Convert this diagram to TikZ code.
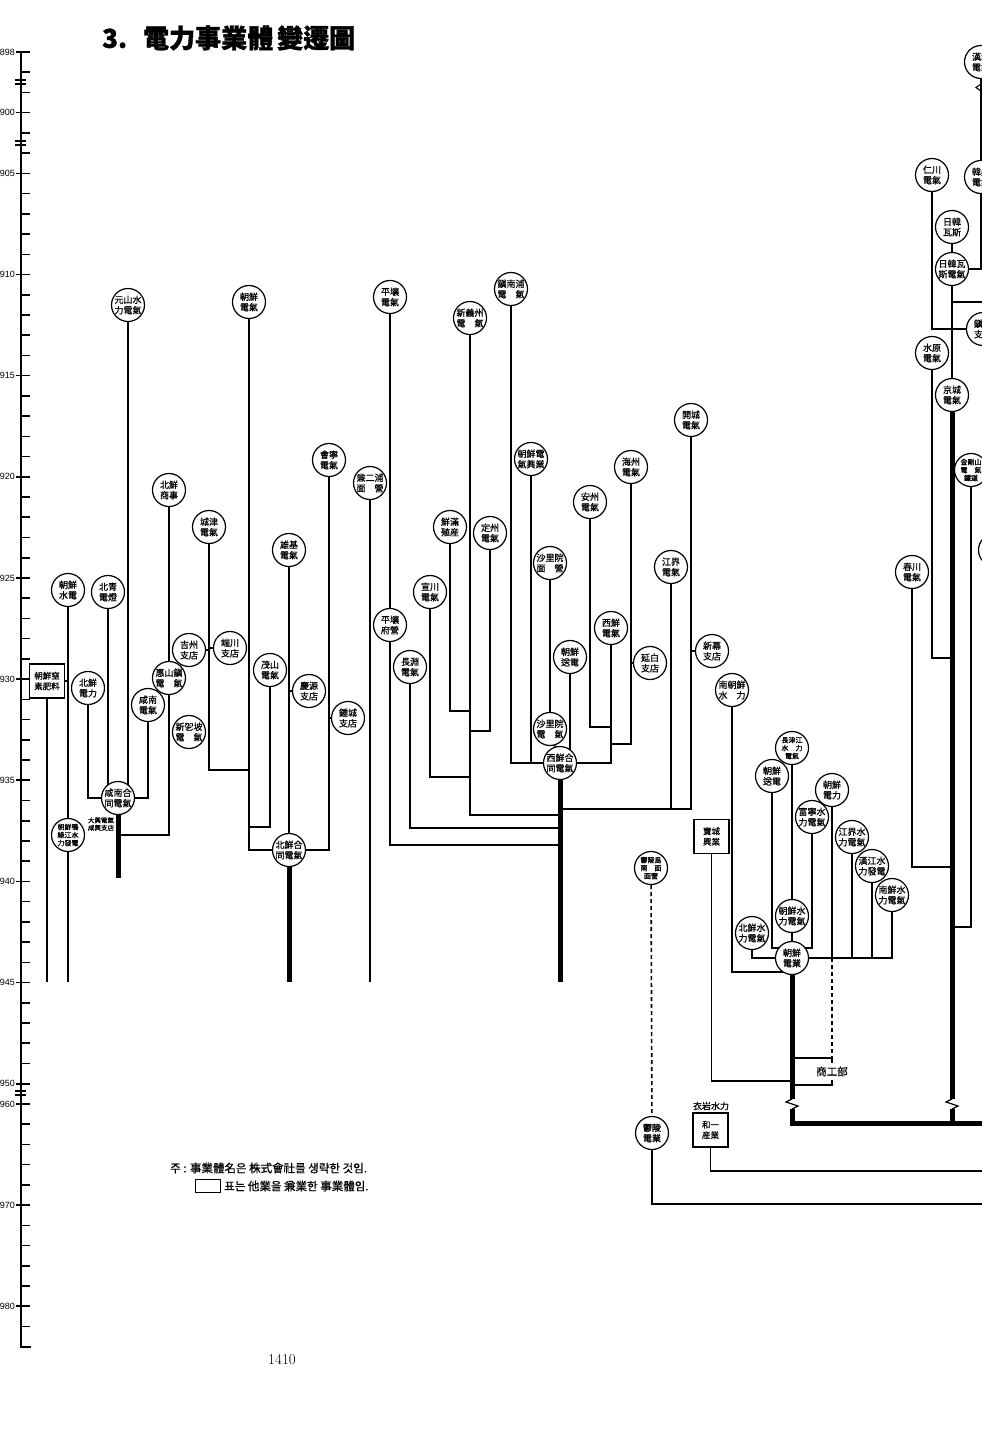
\documentclass[tikz,border=0pt]{standalone}
\usepackage{fontspec}
\newfontfamily\cjk[FakeBold=0.7]{Noto Sans CJK KR}
\newfontfamily\cjkdark[FakeBold=1.2]{Noto Sans CJK KR}
\newfontfamily\digits{Liberation Sans}
\usetikzlibrary{positioning,backgrounds}
\tikzset{
  firm/.style = {circle, draw, line width=1.2pt, fill=white, minimum size=33pt, inner sep=0pt, align=center, font=\cjk\fontsize{9}{10.5}\selectfont},
  smallfirm/.style = {firm, font=\cjk\fontsize{7}{8}\selectfont},
  dualfirm/.style = {rectangle, draw, line width=1.2pt, fill=white, minimum width=35pt, minimum height=34pt, inner sep=0pt, align=center, font=\cjk\fontsize{8.5}{10.5}\selectfont},
  life/.style = {line width=1.6pt},
  trunk/.style = {line width=5pt},
  govline/.style = {line width=1.6pt, dash pattern=on 4pt off 3pt},
  yearlab/.style = {anchor=east, inner sep=0pt, font=\digits\fontsize{9}{9}\selectfont},
  tag/.style = {inner sep=0pt, align=center, font=\cjk\fontsize{9}{11}\selectfont},
}

\begin{document}
\begin{tikzpicture}[x=1pt,y=-1pt]
\useasboundingbox (0,0) rectangle (982,1440);

% title
\node[anchor=west, inner sep=0pt, font=\cjkdark\bfseries\fontsize{26}{26}\selectfont] (title) at (102,38) {3.\hspace{16pt}電力事業體\hspace{4pt}變遷圖};

% time axis
\draw[life] (21,52) -- (21,1347) -- (31,1347);
\foreach \i in {0,...,63}
  \draw[life] (21,{52+20.23*\i}) -- (30,{52+20.23*\i});
\foreach \i/\yr in {0/1898,3/1900,6/1905,11/1910,16/1915,21/1920,26/1925,31/1930,36/1935,41/1940,46/1945,51/1950,52/1960,57/1970,62/1980}{
  \draw[life] (16,{52+20.23*\i}) -- (21,{52+20.23*\i});
  \node[yearlab] at (15,{52+20.23*\i}) {\yr};
}
\foreach \b in {80,141,1091}
  \draw[line width=1.1pt] (15,\b) -- (26,\b) (15,{\b+4}) -- (26,{\b+4});

% junction rows
\coordinate (east) at (990,0);
\coordinate (y1945) at (0,982);
\foreach \r in {84,302,658,711,727,731,744,770,777,809,815,827,828,835,845,867,878,927,948,972,1081,1099,1109,1123,1171,1204}
  \coordinate (r\r) at (0,\r);

% north-east (Hamgyong) companies
\node[firm] (gensan) at (128,305) {元山水\\力電氣};
\node[firm] (chosenden) at (249,302) {朝鮮\\電氣};
\node[firm] (kainei) at (329,460) {會寧\\電氣};
\node[firm] (kenjiho) at (370,483) {兼二浦\\面\quad 營};
\node[firm] (shoji) at (169,490) {北鮮\\商事};
\node[firm] (joshin) at (209,527) {城津\\電氣};
\node[firm] (yuki) at (289,550) {雄基\\電氣};
\node[firm] (suiden) at (68,590) {朝鮮\\水電};
\node[firm] (hokusei) at (108,592) {北青\\電燈};
\node[firm] (kisshu) at (189,650) {吉州\\支店};
\node[firm] (tansen) at (230,648) {端川\\支店};
\node[firm] (keizan) at (169,678) {惠山鎭\\電\quad 氣};
\node[dualfirm] (chisso) at (47,681) {朝鮮窒\\素肥料};
\node[firm] (hokusenden) at (88,688) {北鮮\\電力};
\node[firm] (mosan) at (270,670) {茂山\\電氣};
\node[firm] (keigen) at (309,691) {慶源\\支店};
\node[firm] (kannanden) at (148,705) {咸南\\電氣};
\node[firm] (shinkappa) at (189,732) {新乫坡\\電\quad 氣};
\node[firm] (shojo) at (348,718) {鍾城\\支店};
\node[firm] (kannan) at (118,798) {咸南合\\同電氣};
\node[smallfirm] (amnok) at (68,835) {朝鮮鴨\\綠江水\\力發電};
\node[tag, font=\cjk\fontsize{6.5}{7.5}\selectfont] (taiko) at (101,824) {大興電氣\\咸興支店};
\node[firm] (hokusengodo) at (289,850) {北鮮合\\同電氣};

% west (Pyongan, Hwanghae) companies
\node[firm] (heijoden) at (390,297) {平壤\\電氣};
\node[firm] (shingishu) at (470,318) {新義州\\電\quad 氣};
\node[firm] (chinnampo) at (511,289) {鎭南浦\\電\quad 氣};
\node[firm] (kaijo) at (691,420) {開城\\電氣};
\node[firm] (kogyo) at (531,459) {朝鮮電\\氣興業};
\node[firm] (kaishu) at (631,467) {海州\\電氣};
\node[firm] (anshu) at (590,502) {安州\\電氣};
\node[firm] (senman) at (450,527) {鮮滿\\殖産};
\node[firm] (teishu) at (490,533) {定州\\電氣};
\node[firm] (sariinmen) at (550,563) {沙里院\\面\quad 營};
\node[firm] (kokai) at (671,567) {江界\\電氣};
\node[firm] (sensen) at (430,592) {宣川\\電氣};
\node[firm] (heijofu) at (390,625) {平壤\\府營};
\node[firm] (choen) at (410,667) {長淵\\電氣};
\node[firm] (seisenden) at (611,628) {西鮮\\電氣};
\node[firm] (sosen) at (570,657) {朝鮮\\送電};
\node[firm] (enpaku) at (650,663) {延白\\支店};
\node[firm] (shinbaku) at (712,651) {新幕\\支店};
\node[firm] (sariinden) at (550,729) {沙里院\\電\quad 氣};
\node[firm] (seisengodo) at (560,763) {西鮮合\\同電氣};

% hydro companies
\node[firm] (minamisui) at (732,690) {南朝鮮\\水\quad 力};
\node[smallfirm] (choshinko) at (792,748) {長津江\\水\quad 力\\電氣};
\node[firm] (sosen2) at (772,776) {朝鮮\\送電};
\node[firm] (chosenry) at (832,790) {朝鮮\\電力};
\node[firm] (funei) at (812,817) {富寧水\\力電氣};
\node[firm] (kokaisui) at (852,837) {江界水\\力電氣};
\node[firm] (kankosui) at (872,866) {漢江水\\力發電};
\node[firm] (nansensui) at (892,895) {南鮮水\\力電氣};
\node[firm] (chosensui) at (792,916) {朝鮮水\\力電氣};
\node[firm] (hokusui) at (752,933) {北鮮水\\力電氣};
\node[firm] (dengyo) at (792,958) {朝鮮\\電業};
\node[dualfirm] (hojo) at (711.5,836.5) {寶城\\興業};
\node[tag, minimum height=27pt, font=\cjk\fontsize{10.5}{11}\selectfont] (shoko) at (832,1071.5) {商工部};
\node[smallfirm] (utsuryomen) at (651,868) {鬱陵島\\南\quad 面\\面營};
\node[firm] (utsuryoden) at (652,1133) {鬱陵\\電業};
\node[dualfirm] (waichi) at (710.5,1130) {和一\\産業};
\node[tag] (iwa) at (711,1106) {衣岩水力};

% Seoul companies
\node[firm] (kanjo) at (981,62) {漢城\\電氣};
\node[firm] (kanbi) at (981,177) {韓美\\電氣};
\node[firm] (jinsen) at (932,175) {仁川\\電氣};
\node[firm] (nikkangas) at (952,227) {日韓\\瓦斯};
\node[firm] (nikkangasden) at (952,269) {日韓瓦\\斯電氣};
\node[firm] (chin) at (983,329) {鎭\hphantom{鎭}\\支\hphantom{支}};
\node[firm] (suigen) at (932,353) {水原\\電氣};
\node[firm] (keijo) at (952,395) {京城\\電氣};
\node[smallfirm] (kongo) at (971,470) {金剛山\\電\quad 氣\\鐵道};
\node[firm] (offedge) at (995,550) {};
\node[firm] (shunsen) at (912,572) {春川\\電氣};

\begin{scope}[on background layer]
\draw[life] (suiden) -- (amnok);
\draw[life] (amnok) -- (amnok |- y1945);
\draw[life] (chisso.east) -- (chisso.east -| suiden);
\draw[life] (chisso.south) -- (chisso.south |- y1945);
\draw[life] (hokusenden) |- (kannan);
\draw[life] (hokusei) -- (hokusei |- kannan);
\draw[life] (gensan) -- (gensan |- kannan);
\draw[life] (kannanden) |- (kannan);
\draw[life] (shoji) -- (keizan);
\draw[life] (keizan) |- (kannan |- r835);
\draw[trunk] (kannan) -- (kannan |- r878);
\draw[life] (kisshu) -- (kisshu -| joshin);
\draw[life] (tansen) -- (tansen -| joshin);
\draw[life] (joshin) |- (chosenden |- r770);
\draw[life] (chosenden) |- (hokusengodo);
\draw[life] (mosan) |- (chosenden |- r827);
\draw[life] (yuki) -- (hokusengodo);
\draw[life] (keigen) -- (keigen -| yuki);
\draw[life] (kainei) |- (hokusengodo);
\draw[life] (shojo) -- (shojo -| kainei);
\draw[trunk] (hokusengodo) -- (hokusengodo |- y1945);
\draw[life] (kenjiho) -- (kenjiho |- y1945);

\draw[life] (heijoden) -- (heijofu);
\draw[life] (heijofu) |- (seisengodo |- r845);
\draw[life] (sensen) |- (shingishu |- r777);
\draw[life] (senman) |- (shingishu |- r711);
\draw[life] (shingishu) |- (seisengodo |- r815);
\draw[life] (teishu) |- (shingishu |- r731);
\draw[life] (choen) |- (seisengodo |- r828);
\draw[life] (chinnampo) |- (seisengodo);
\draw[life] (kogyo) -- (kogyo |- seisengodo);
\draw[life] (sariinmen) -- (sariinden);
\draw[life] (sariinden) -- (seisengodo);
\draw[life] (sosen) -- (sosen |- seisengodo);
\draw[life] (anshu) |- (seisenden |- r727);
\draw[life] (seisenden) |- (seisengodo);
\draw[life] (kaishu) |- (seisenden |- r744);
\draw[life] (enpaku) -- (enpaku -| kaishu);
\draw[life] (kokai) |- (seisengodo |- r809);
\draw[life] (kaijo) |- (kokai |- r809);
\draw[life] (shinbaku) -- (shinbaku -| kaijo);
\draw[trunk] (seisengodo) -- (seisengodo |- y1945);

\draw[life] (minamisui) |- (dengyo |- r972);
\draw[life] (sosen2) |- (dengyo |- r948);
\draw[life] (choshinko) -- (chosensui);
\draw[life] (chosensui) -- (dengyo);
\draw[life] (funei) |- (dengyo |- r948);
\draw[life] (hokusui) |- (dengyo);
\draw[life] (chosenry) |- (dengyo);
\draw[life] (kokaisui) |- (dengyo);
\draw[life] (kankosui) |- (dengyo);
\draw[life] (nansensui) |- (dengyo);
\draw[govline] (chosenry |- dengyo) -- (shoko.north);
\draw[life] (shoko.north -| dengyo) -- (shoko.north) -- ([yshift=-5pt]shoko.north);
\draw[life] (shoko.south -| dengyo) -- (shoko.south) -- ([yshift=5pt]shoko.south);
\draw[life] (hojo) |- (dengyo |- r1081);
\draw[trunk] (dengyo) -- (dengyo |- r1099);
\draw[line width=1.2pt] (dengyo |- r1099) -- ++(-6,3) -- ++(12,4) -- ++(-6,3);
\draw[trunk] (dengyo |- r1109) |- (east |- r1123);
\draw[trunk] (keijo) -- (keijo |- r1099);
\draw[line width=1.2pt] (keijo |- r1099) -- ++(-6,3) -- ++(12,4) -- ++(-6,3);
\draw[trunk] (keijo |- r1109) -- (keijo |- r1123);
\draw[govline] (utsuryomen) -- (utsuryoden);
\draw[life] (utsuryoden) |- (east |- r1204);
\draw[life] (waichi) |- (east |- r1171);

\draw[life] (kanjo) -- (kanbi);
\draw[line width=1.1pt] (kanjo |- r84) -- ++(-5,3.5) -- ++(5,3.5);
\draw[life] (kanbi) |- (nikkangasden);
\draw[life] (nikkangas) -- (nikkangasden);
\draw[life] (nikkangasden) -- (keijo);
\draw[life] (keijo |- r302) -- (east |- r302);
\draw[life] (jinsen) |- (chin);
\draw[life] (suigen) |- (keijo |- r658);
\draw[life] (kongo) |- (keijo |- r927);
\draw[life] (shunsen) |- (keijo |- r867);
\end{scope}

% note
\node[tag, anchor=west, font=\cjk\fontsize{11.5}{13}\selectfont] (note1) at (170,1168) {주 : 事業體名은 株式會社를 생략한 것임.};
\node[draw, line width=0.9pt, minimum width=25pt, minimum height=13pt, inner sep=0pt] (legendbox) at (207.5,1185.5) {};
\node[tag, anchor=west, font=\cjk\fontsize{11.5}{13}\selectfont] (note2) at (224,1186) {표는 他業을 兼業한 事業體임.};
\node[font=\fontsize{15}{15}\selectfont] (pageno) at (282,1360) {1410};
\end{tikzpicture}
\end{document}
